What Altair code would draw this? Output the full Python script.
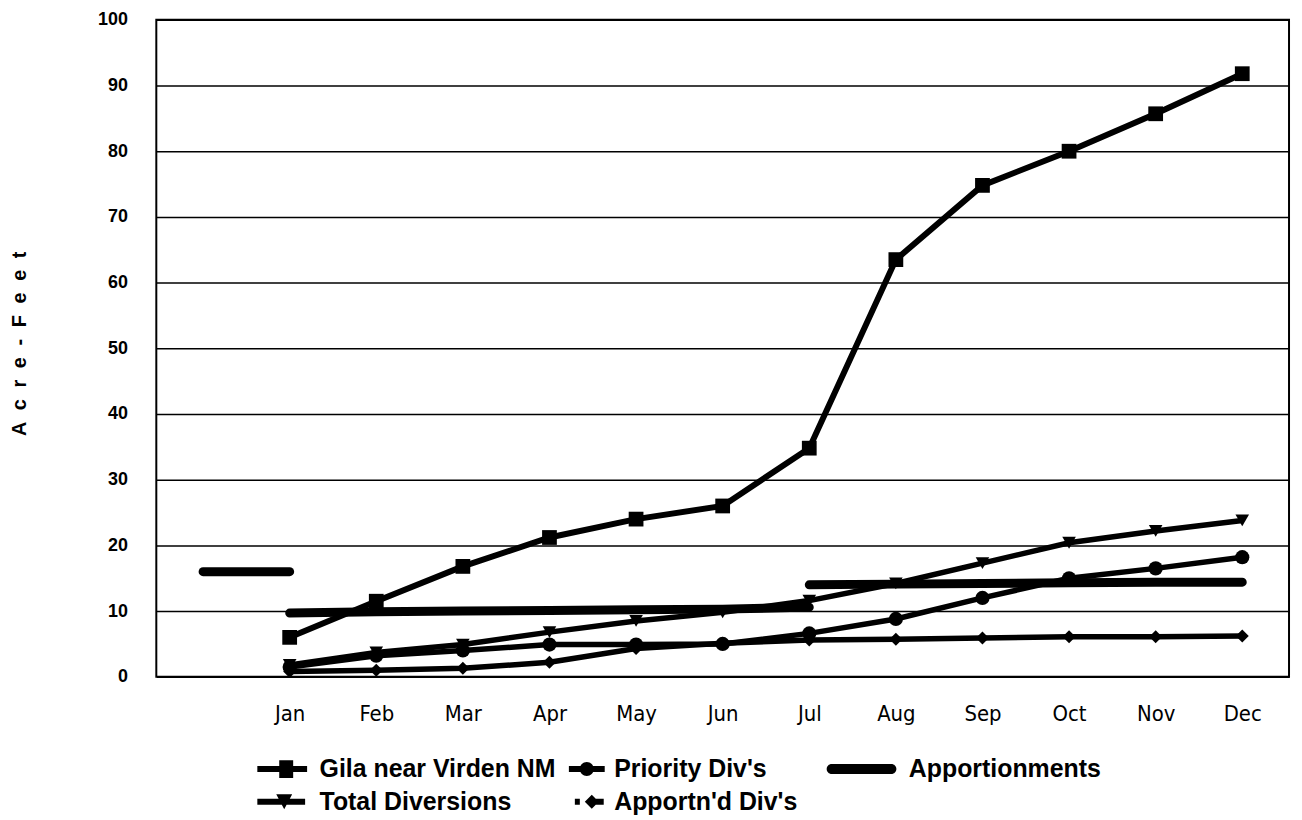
import altair as alt
import pandas as pd

# ---------------- data ----------------
categories = [" ", "Jan", "Feb", "Mar", "Apr", "May", "Jun",
              "Jul", "Aug", "Sep", "Oct", "Nov", "Dec"]
months = categories[1:]

gila = [6.0, 11.5, 16.8, 21.2, 24.0, 26.0, 34.8, 63.5, 74.8, 80.0, 85.7, 91.8]
priority = [1.5, 3.2, 4.0, 4.9, 4.9, 5.0, 6.6, 8.8, 12.0, 15.0, 16.5, 18.2]
total_div = [1.8, 3.7, 4.9, 6.8, 8.5, 9.8, 11.6, 14.2, 17.3, 20.4, 22.2, 23.8]
apportnd = [0.8, 1.0, 1.3, 2.2, 4.3, 5.1, 5.6, 5.7, 5.9, 6.1, 6.1, 6.2]

# Apportionments are drawn as three separate pieces
appor_a_months = [" ", "Jan"]
appor_a = [16.0, 16.0]
appor_b_months = ["Jan", "Feb", "Mar", "Apr", "May", "Jun", "Jul"]
appor_b = [9.7, 9.9, 10.0, 10.1, 10.2, 10.3, 10.6]
appor_c_months = ["Jul", "Aug", "Sep", "Oct", "Nov", "Dec"]
appor_c = [14.0, 14.1, 14.2, 14.3, 14.4, 14.4]

S_GILA = "Gila near Virden NM"
S_PRI = "Priority Div's"
S_APP = "Apportionments"
S_TOT = "Total Diversions"
S_APD = "Apportn'd Div's"
legend_order = [S_GILA, S_PRI, S_APP, S_TOT, S_APD]

rows = []
for name, vals in [(S_GILA, gila), (S_PRI, priority), (S_TOT, total_div), (S_APD, apportnd)]:
    for m, v in zip(months, vals):
        rows.append({"month": m, "value": v, "series": name, "seg": name})
for seg, ms, vals in [("a", appor_a_months, appor_a), ("b", appor_b_months, appor_b),
                      ("c", appor_c_months, appor_c)]:
    for m, v in zip(ms, vals):
        rows.append({"month": m, "value": v, "series": S_APP, "seg": "app_" + seg})
df = pd.DataFrame(rows)

# ---------------- encodings ----------------
GAP = "\u2002\u200a"
y_title = GAP.join(list("Acre-Feet"))

x_enc = alt.X("month:N", sort=categories,
              scale=alt.Scale(type="point", domain=categories, padding=0.54),
              axis=alt.Axis(title=None, grid=False, ticks=False, domain=False,
                            labelAngle=0, labelFont="DejaVu Sans Condensed",
                            labelFontSize=22, labelColor="black", labelPadding=27))
y_enc = alt.Y("value:Q",
              scale=alt.Scale(domain=[0, 100], nice=False, zero=True),
              axis=alt.Axis(values=list(range(0, 101, 10)), grid=True, gridColor="black",
                            gridWidth=1.5, gridOpacity=1, ticks=False, tickSize=0,
                            domain=False, labelFont="Liberation Sans", labelFontWeight="bold",
                            labelFontSize=18, labelColor="black", labelPadding=29,
                            title=y_title,
                            titleFont="Liberation Sans", titleFontWeight="bold",
                            titleFontSize=20, titleColor="black",
                            titleX=-127, titleY=325, titleAngle=270,
                            titleBaseline="bottom", titleAlign="center"))

base = alt.Chart(df)

data_series = [S_GILA, S_PRI, S_TOT, S_APD]

gila_line = base.transform_filter(alt.datum.series == S_GILA).mark_line(
    color="black", strokeWidth=6).encode(x=x_enc, y=y_enc)

other_lines = base.transform_filter(
    alt.FieldOneOfPredicate(field="series", oneOf=[S_PRI, S_TOT, S_APD])
).mark_line(color="black", strokeWidth=5.5).encode(x=x_enc, y=y_enc, detail="seg:N")

appor_lines = base.transform_filter(alt.datum.series == S_APP).mark_line(
    color="black", strokeWidth=9, strokeCap="round").encode(x=x_enc, y=y_enc, detail="seg:N")

points = base.transform_filter(
    alt.FieldOneOfPredicate(field="series", oneOf=data_series)
).mark_point(filled=True, color="black", opacity=1).encode(
    x=x_enc, y=y_enc,
    shape=alt.Shape("series:N", scale=alt.Scale(domain=data_series,
                    range=["square", "circle", "triangle-down", "diamond"]), legend=None),
    size=alt.Size("series:N", scale=alt.Scale(domain=data_series,
                  range=[220, 170, 230, 200]), legend=None),
)

# legend glyphs: path units are 10 px (symbol size 400 -> radius 10)
legend_paths = [
    # Gila: line + square
    "M-2.2,-0.3H2.8V0.3H-2.2Z M0,-0.9H1.4V0.9H0Z",
    # Priority: line + circle
    "M-0.5,-0.3H3.1V0.3H-0.5Z M0.6,0 A0.7,0.7 0 1,1 2.0,0 A0.7,0.7 0 1,1 0.6,0Z",
    # Apportionments: thick rounded bar
    "M-3.7,-0.5H2.3A0.5,0.5 0 0 1 2.3,0.5H-3.7A0.5,0.5 0 0 1 -3.7,-0.5Z",
    # Total Diversions: line + down triangle
    "M-2.2,-0.3H2.6V0.3H-2.2Z M-0.3,-0.75H1.3L0.5,0.75Z",
    # Apportn'd Div's: dot + diamond + line
    "M0.1,-0.3H0.6V0.3H0.1Z M1.1,0 L1.8,-0.7 L2.5,0 L1.8,0.7Z M1.8,-0.3H3.0V0.3H1.8Z",
]

legend_layer = base.mark_point(filled=True, color="black", opacity=0, size=400).encode(
    x=x_enc, y=y_enc,
    shape=alt.Shape("series:N",
                    scale=alt.Scale(domain=legend_order, range=legend_paths),
                    sort=legend_order,
                    legend=alt.Legend(title=None, orient="none", legendX=111, legendY=740,
                                      direction="horizontal", columns=3, gridAlign="all",
                                      columnPadding=-25, rowPadding=7, padding=0,
                                      symbolSize=400, symbolOpacity=1,
                                      symbolFillColor="black", symbolStrokeWidth=0,
                                      labelOffset=28, labelFont="Liberation Sans",
                                      labelFontWeight="bold", labelFontSize=25,
                                      labelColor="black", labelLimit=400)),
)

chart = alt.layer(gila_line, other_lines, appor_lines, points, legend_layer).resolve_scale(
    shape="independent", size="independent"
).properties(
    width=1138, height=660,
    autosize=alt.AutoSizeParams(type="none"),
    padding={"left": 149, "top": 10, "right": 5, "bottom": 140},
    background="white",
).configure_view(stroke="black", strokeWidth=2)

chart.save("out.html", embed_options={"renderer": "svg", "actions": False})
